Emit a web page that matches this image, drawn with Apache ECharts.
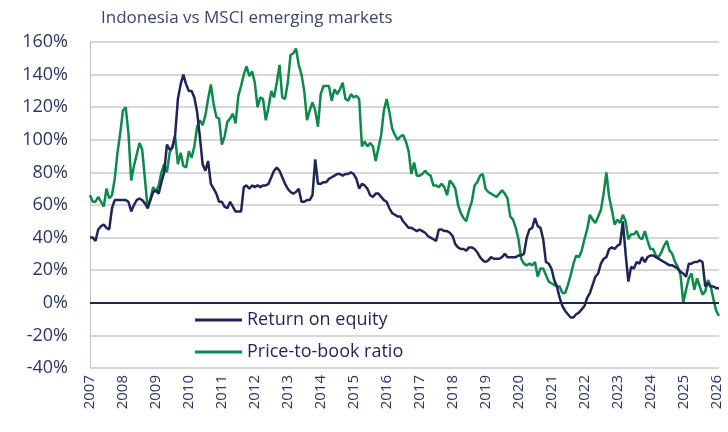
<!DOCTYPE html>
<html>
<head>
<meta charset="utf-8">
<script src="https://cdn.jsdelivr.net/npm/echarts@6/dist/echarts.min.js"></script>
<style>
  html, body { margin: 0; padding: 0; background: #ffffff; }
  #chart { width: 728px; height: 432px; }
</style>
</head>
<body>
<div id="chart"></div>
<script>
// Tick labels (years) and monthly categories Jan 2007 .. Feb 2026
const years = [2007, 2008, 2009, 2010, 2011, 2012, 2013, 2014, 2015, 2016, 2017, 2018, 2019, 2020, 2021, 2022, 2023, 2024, 2025, 2026];
const monthsInLastYear = 2;

const subtitle = 'Indonesia vs MSCI emerging markets';
const seriesNames = ['Return on equity', 'Price-to-book ratio'];

// Return on equity, Indonesia relative to MSCI EM (%), monthly
const roe = [
  40, 40, 38, 45, 47, 48, 46, 45, 58, 63, 63, 63,
  63, 63, 62, 56, 60, 63, 64, 63, 61, 58, 63, 68,
  69, 67, 74, 80, 97, 94, 95, 103, 125, 134, 140, 134,
  130, 130, 126, 117, 102, 85, 81, 87, 73, 70, 67, 62,
  62, 59, 58, 62, 59, 56, 56, 56, 71, 72, 70, 72,
  71, 72, 71, 72, 72, 73, 77, 81, 83, 81, 77, 73,
  70, 68, 67, 68, 70, 62, 62, 63, 63, 66, 88, 73,
  73, 74, 74, 76, 77, 78, 79, 79, 78, 79, 79, 80,
  79, 76, 70, 73, 72, 70, 66, 65, 67, 67, 65, 63,
  62, 58, 55, 54, 53, 53, 50, 48, 46, 46, 45, 44,
  45, 44, 43, 41, 40, 39, 38, 45, 45, 44, 44, 43,
  41, 36, 34, 33, 33, 32, 34, 34, 33, 31, 28, 26,
  25, 26, 28, 27, 27, 27, 28, 30, 28, 28, 28, 28,
  29, 29, 30, 40, 45, 46, 52, 47, 46, 39, 25, 24,
  21, 14, 10, 3, -2, -5, -7, -9, -9, -7, -6, -4,
  -2, 3, 6, 11, 16, 18, 24, 27, 28, 33, 34, 33,
  35, 36, 50, 30, 13, 22, 21, 25, 24, 28, 25, 28,
  29, 29, 28, 27, 26, 25, 24, 23, 23, 22, 21, 19,
  18, 16, 24, 24, 25, 25, 26, 25, 10, 12, 10, 10,
  9, 9
];

// Price-to-book ratio, Indonesia relative to MSCI EM (%), monthly
const pb = [
  66, 62, 62, 65, 62, 59, 70, 64, 66, 76, 92, 104,
  118, 120, 104, 75, 84, 91, 98, 94, 76, 58, 64, 71,
  68, 72, 80, 85, 80, 92, 96, 102, 85, 92, 84, 83,
  93, 89, 96, 108, 112, 109, 115, 125, 134, 122, 114, 113,
  97, 102, 111, 113, 116, 110, 127, 133, 140, 145, 139, 142,
  135, 120, 126, 125, 112, 120, 130, 126, 135, 146, 126, 125,
  135, 152, 153, 156, 146, 140, 130, 112, 118, 123, 118, 108,
  128, 133, 133, 133, 124, 131, 128, 131, 135, 125, 124, 128,
  126, 127, 125, 96, 99, 96, 98, 96, 87, 95, 103, 118,
  125, 117, 107, 103, 100, 102, 103, 99, 93, 79, 86, 78,
  78, 79, 81, 79, 78, 72, 72, 71, 73, 71, 66, 75,
  73, 70, 60, 55, 52, 50, 57, 62, 72, 74, 78, 79,
  70, 68, 67, 66, 65, 67, 69, 67, 64, 53, 51, 46,
  39, 27, 24, 23, 24, 23, 25, 16, 21, 21, 17, 13,
  12, 11, 10, 10, 6, 6, 11, 17, 24, 29, 28, 32,
  39, 45, 54, 51, 49, 53, 57, 67, 80, 65, 57, 48,
  51, 49, 54, 50, 39, 42, 42, 44, 40, 39, 44, 38,
  33, 33, 29, 28, 31, 35, 38, 32, 30, 25, 22, 17,
  0, 8, 15, 18, 8, 15, 10, 5, 7, 14, 10, 2,
  -5, -8
];

// Build monthly category list from the year ticks
const categories = [];
years.forEach(function (y, k) {
  const n = (k === years.length - 1) ? monthsInLastYear : 12;
  for (let m = 1; m <= n; m++) categories.push(y + '-' + (m < 10 ? '0' + m : m));
});

const NAVY = '#1f2554';
const GREEN = '#0b8a4b';
const TEXT = '#2c3563';
const FONT = '"Open Sans", "DejaVu Sans", sans-serif';

const chart = echarts.init(document.getElementById('chart'), null, { renderer: 'canvas' });
chart.setOption({
  backgroundColor: '#ffffff',
  animation: false,
  title: {
    text: subtitle,
    left: 96,
    top: 5,
    textStyle: { fontFamily: FONT, fontSize: 17, fontWeight: 'normal', color: '#3a4470' }
  },
  grid: { left: 90, right: 9, top: 42, bottom: 64, containLabel: false },
  legend: {
    data: seriesNames,
    orient: 'vertical',
    left: 190,
    top: 304,
    itemGap: 10,
    itemWidth: 47,
    itemHeight: 3,
    icon: 'rect',
    textStyle: { fontFamily: FONT, fontSize: 18, color: NAVY, lineHeight: 22 }
  },
  xAxis: {
    type: 'category',
    data: categories,
    boundaryGap: false,
    axisLine: { show: false },
    axisTick: { show: false },
    splitLine: { show: false },
    axisLabel: {
      rotate: 90,
      margin: 7,
      interval: function (idx) { return idx % 12 === 0; },
      formatter: function (v) { return v.slice(0, 4); },
      fontFamily: FONT,
      fontSize: 15,
      color: TEXT
    }
  },
  yAxis: {
    type: 'value',
    min: -40,
    max: 160,
    interval: 20,
    axisLine: { show: true, lineStyle: { color: '#b9bfd3', width: 1 } },
    axisTick: { show: false },
    splitLine: { show: true, lineStyle: { color: '#c9c9cf', width: 1.5 } },
    axisLabel: {
      formatter: '{value}%',
      margin: 22,
      fontFamily: FONT,
      fontSize: 18,
      color: TEXT
    }
  },
  series: [
    {
      name: seriesNames[1],
      type: 'line',
      data: pb,
      showSymbol: false,
      symbol: 'none',
      lineStyle: { color: GREEN, width: 2.5 },
      itemStyle: { color: GREEN },
      z: 2
    },
    {
      name: seriesNames[0],
      type: 'line',
      data: roe,
      showSymbol: false,
      symbol: 'none',
      lineStyle: { color: NAVY, width: 2.5 },
      itemStyle: { color: NAVY },
      z: 3,
      markLine: {
        silent: true,
        symbol: ['none', 'none'],
        label: { show: false },
        lineStyle: { color: NAVY, width: 2, type: 'solid' },
        data: [{ yAxis: 0 }]
      }
    }
  ]
});
</script>
</body>
</html>
